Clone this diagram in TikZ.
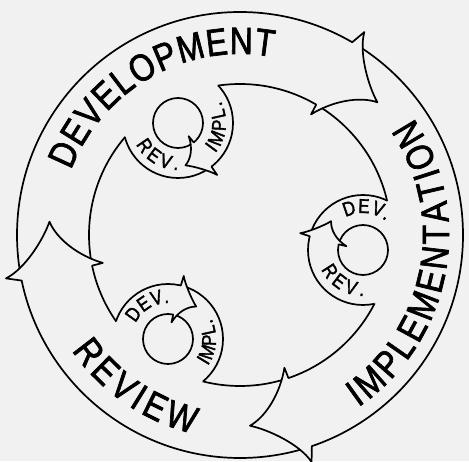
\documentclass[tikz,border=0pt]{standalone}
\usepackage{fontspec}
\setmainfont{Liberation Sans}
\newfontfamily\labelface[FakeStretch=0.84,FakeBold=1.8]{Liberation Sans}
\usetikzlibrary{decorations.text}
\definecolor{paper}{gray}{0.945}
\newcommand\bigfnt{\labelface\fontsize{38}{38}\selectfont}
\newcommand\smallfnt{\labelface\fontsize{20}{20}\selectfont}
\begin{document}
\begin{tikzpicture}[x=1pt,y=1pt,
  line/.style={line width=1.7pt, line join=round, line cap=round},
  arclabel/.style args={#1/#2/#3/#4}{decorate, decoration={text along path, text={#1}, text align=fit to path},
    insert path={++(#2:#4) arc[start angle=#2, end angle=#3, radius=#4]}}]
\useasboundingbox[fill=paper] (0,0) rectangle (469,461);
\coordinate (C) at (240,226);
\coordinate (M1) at (178,338);
\coordinate (M2) at (363,211);
\coordinate (M3) at (168,122);

% outlines of the three small loops
\foreach \m in {M1,M2,M3} \draw[line] (\m) circle[radius=55pt];
% the big ring is open where the loops join it
\fill[paper, even odd rule] (C) circle[radius=223pt] (C) circle[radius=151pt];
\draw[line] (C) circle[radius=223pt];
\begin{scope}[even odd rule]
  \clip (0,0) rectangle (469,461)
    (M1) circle[radius=55pt] (M2) circle[radius=55pt] (M3) circle[radius=55pt];
  \draw[line] (C) circle[radius=151pt];
\end{scope}

% big arrowheads
\begin{scope}[shift={(C)}]
\foreach \b in {58.5,-72.5,190.5}{
  \fill[paper] ({\b+1.3}:223) -- (\b:238)
     .. controls ({\b-1.5}:218) and ({\b-9}:197) .. ({\b-14.5}:191)
     .. controls ({\b-9}:183) and ({\b-3}:162) .. ({\b+1}:140)
     -- ({\b+1.2}:151) -- cycle;
  \draw[line] ({\b+1.3}:223) -- (\b:238)
     .. controls ({\b-1.5}:218) and ({\b-9}:197) .. ({\b-14.5}:191)
     .. controls ({\b-9}:183) and ({\b-3}:162) .. ({\b+1}:140)
     -- ({\b+1.2}:151);
}
\end{scope}

% small inner circles
\foreach \m in {M1,M2,M3} \draw[line] (\m) circle[radius=25pt];

% small arrowheads
\foreach \m/\b in {M1/-53,M2/165,M3/76}{
  \begin{scope}[shift={(\m)}]
  \fill[paper] ({\b+0.5}:55) -- (\b:65)
     .. controls ({\b-3}:58) and ({\b-17}:46) .. ({\b-27}:43)
     .. controls ({\b-17}:38) and ({\b-6}:29) .. ({\b+2}:17)
     -- ({\b+2}:25) -- cycle;
  \draw[line] ({\b+0.5}:55) -- (\b:65)
     .. controls ({\b-3}:58) and ({\b-17}:46) .. ({\b-27}:43)
     .. controls ({\b-17}:38) and ({\b-6}:29) .. ({\b+2}:17)
     -- ({\b+2}:25);
  \end{scope}
}

% phase names
\path (C) [arclabel={|\bigfnt|DEVELOPMENT/159/79.5/181}];
\path (C) [arclabel={|\bigfnt|IMPLEMENTATION/-55.5/34/209}];
\path (C) [arclabel={|\bigfnt|REVIEW/214.5/256.5/204}];

\path (M1) [arclabel={|\smallfnt|REV./207/270/47}];
\path (M1) [arclabel={|\smallfnt|IMPL./-39/27/48}];
\path (M2) [arclabel={|\smallfnt|DEV./118/52/37}];
\path (M2) [arclabel={|\smallfnt|REV./205/271/46}];
\path (M3) [arclabel={|\smallfnt|DEV./154/88/36}];
\path (M3) [arclabel={|\smallfnt|IMPL./-34/25/48}];
\end{tikzpicture}
\end{document}
